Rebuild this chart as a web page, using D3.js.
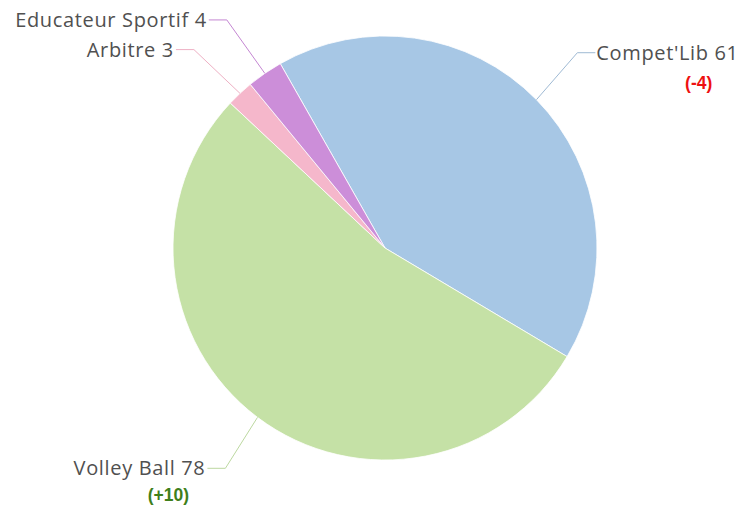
<!DOCTYPE html>
<html>
<head>
<meta charset="utf-8">
<script src="https://cdn.jsdelivr.net/npm/d3@7"></script>
<style>
  body { margin: 0; background: #fff; }
  svg { display: block; }
</style>
</head>
<body>
<div id="chart"></div>
<script>
const categories = ["Compet'Lib", "Volley Ball", "Arbitre", "Educateur Sportif"];
const values = [61, 78, 3, 4];
const deltas = ["(-4)", "(+10)", "", ""];
const deltaColors = ["#ee1111", "#3f7f1b", "", ""];
const colors = ["#a7c7e5", "#c5e1a6", "#f5b7cb", "#cc8ed9"];
const lineColors = ["#9fbad4", "#bcd8a0", "#eeb0c4", "#c486d2"];

const w = 744, h = 506;
const cx = 385, cy = 248, r = 212;

const svg = d3.select("#chart").append("svg").attr("width", w).attr("height", h);
const g = svg.append("g").attr("transform", "translate(" + cx + "," + cy + ")");

const start = -29.6 * Math.PI / 180;
const pie = d3.pie().sort(null).startAngle(start).endAngle(start + 2 * Math.PI);
const arcs = pie(values);
const arc = d3.arc().innerRadius(0).outerRadius(r);

g.selectAll("path.slice").data(arcs).enter().append("path")
  .attr("class", "slice")
  .attr("d", arc)
  .attr("fill", (d, i) => colors[i])
  .attr("stroke", "#fff").attr("stroke-width", 0.8);

// leader lines + labels
const elbowR = 272, tail = 18;
arcs.forEach(function(d, i) {
  const a = (d.startAngle + d.endAngle) / 2;
  const p0 = [Math.sin(a) * r, -Math.cos(a) * r];
  let p1 = [Math.sin(a) * elbowR, -Math.cos(a) * elbowR];
  // nudge to match spacing of the small slices
  if (i === 0) p1 = [p1[0] - 2, p1[1] - 5];
  if (i === 1) p1 = [p1[0] + 4, p1[1] + 3];
  if (i === 3) p1 = [p1[0] - 4, p1[1] - 4];
  if (i === 2) p1 = [p1[0] - 5, p1[1]];
  const right = Math.sin(a) > 0;
  const p2 = [p1[0] + (right ? tail : -tail), p1[1]];
  g.append("path")
    .attr("d", d3.line()([p0, p1, p2]))
    .attr("fill", "none").attr("stroke", lineColors[i]).attr("stroke-width", 1);
  const tx = p2[0] + (right ? 1 : -2);
  const t = g.append("text")
    .attr("x", tx).attr("y", p2[1] + 7)
    .attr("text-anchor", right ? "start" : "end")
    .style("font-family", "'Open Sans', sans-serif")
    .style("font-size", "20px")
    .style("letter-spacing", "0.65px")
    .attr("fill", "#505050")
    .text(categories[i] + " " + values[i]);
  if (deltas[i]) {
    const bb = t.node().getBBox();
    g.append("text")
      .attr("x", bb.x + bb.width - (right ? 40 : 37))
      .attr("y", p2[1] + (right ? 36 : 33))
      .attr("text-anchor", "middle")
      .style("font-family", "'Liberation Sans', Arial, sans-serif")
      .style("font-size", "17.5px").style("font-weight", "bold")
      .attr("fill", deltaColors[i])
      .text(deltas[i]);
  }
});
</script>
</body>
</html>
